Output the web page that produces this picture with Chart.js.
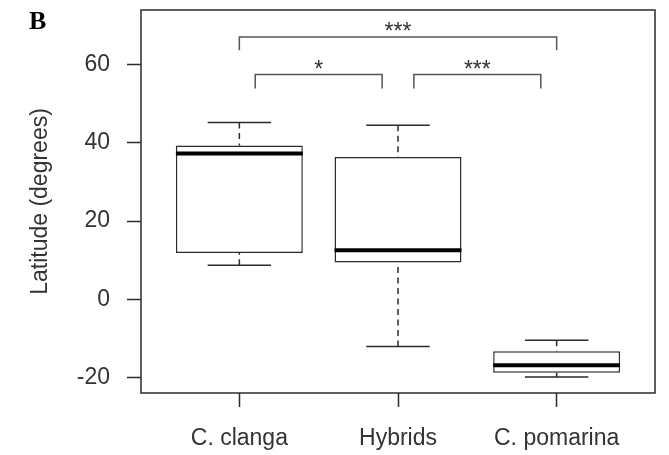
<!DOCTYPE html>
<html lang="en">
<head>
<meta charset="UTF-8">
<title>Latitude por grupo</title>
<script src="https://cdn.jsdelivr.net/npm/chart.js@4.4.0/dist/chart.umd.min.js"></script>
<style>
    html, body { margin: 0; padding: 0; background: #fff; }
    #grafico1 { width: 669px; height: 455px; }
</style>
</head>
<body>

<div id="grafico1">
    <canvas id="myChart"></canvas>
</div>

<script>
    // dados (boxplot de latitude)
    const categorias = ['C. clanga', 'Hybrids', 'C. pomarina'];
    const posicoes = [1, 2, 3];
    const minimos = [8.7, -12.1, -19.9];
    const quartil1 = [11.8, 9.4, -18.8];
    const medianas = [37.3, 12.5, -16.9];
    const quartil3 = [39.3, 36.4, -13.3];
    const maximos = [45.2, 44.5, -10.5];
    const ticksY = [-20, 0, 20, 40, 60];

    // comparações entre grupos (colchetes de significância)
    const compInicio = [1, 1.1, 2.1];
    const compFim = [3, 1.9, 2.9];
    const compTopo = [67.1, 57.5, 57.5];
    const compPerna = [63.7, 53.9, 53.9];
    const compTextoY = [69.8, 60.1, 60.1];
    const compTexto = ['***', '*', '***'];

    const fonte = 'Liberation Sans, Arial, sans-serif';
    const corLinha = '#2b2b2b';

    // plugin que desenha medianas, bigodes, moldura e colchetes usando as escalas do chart
    const desenhoBoxplot = {
        id: 'desenhoBoxplot',
        afterDatasetsDraw(chart) {
            const ctx = chart.ctx;
            const x = chart.scales.x;
            const y = chart.scales.y;
            const area = chart.chartArea;

            ctx.save();
            ctx.strokeStyle = corLinha;
            ctx.lineWidth = 1.5;

            for (let i = 0; i < posicoes.length; i++) {
                const px = x.getPixelForValue(posicoes[i]);

                // bigodes tracejados
                ctx.setLineDash([6, 4.5]);
                ctx.beginPath();
                ctx.moveTo(px, y.getPixelForValue(maximos[i]));
                ctx.lineTo(px, y.getPixelForValue(quartil3[i]));
                ctx.moveTo(px, y.getPixelForValue(minimos[i]));
                ctx.lineTo(px, y.getPixelForValue(quartil1[i]));
                ctx.stroke();
                ctx.setLineDash([]);

                // traços nas pontas
                ctx.beginPath();
                ctx.moveTo(x.getPixelForValue(posicoes[i] - 0.2), y.getPixelForValue(maximos[i]));
                ctx.lineTo(x.getPixelForValue(posicoes[i] + 0.2), y.getPixelForValue(maximos[i]));
                ctx.moveTo(x.getPixelForValue(posicoes[i] - 0.2), y.getPixelForValue(minimos[i]));
                ctx.lineTo(x.getPixelForValue(posicoes[i] + 0.2), y.getPixelForValue(minimos[i]));
                ctx.stroke();

                // mediana grossa
                ctx.save();
                ctx.strokeStyle = '#000';
                ctx.lineWidth = 4;
                ctx.beginPath();
                ctx.moveTo(x.getPixelForValue(posicoes[i] - 0.4), y.getPixelForValue(medianas[i]));
                ctx.lineTo(x.getPixelForValue(posicoes[i] + 0.4), y.getPixelForValue(medianas[i]));
                ctx.stroke();
                ctx.restore();
            }

            // moldura do gráfico
            ctx.strokeRect(area.left, area.top, area.right - area.left, area.bottom - area.top);

            // colchetes
            ctx.strokeStyle = '#555';
            ctx.fillStyle = '#333';
            ctx.font = '23px ' + fonte;
            ctx.textAlign = 'center';
            ctx.textBaseline = 'alphabetic';
            for (let i = 0; i < compTexto.length; i++) {
                const x1 = x.getPixelForValue(compInicio[i]);
                const x2 = x.getPixelForValue(compFim[i]);
                ctx.beginPath();
                ctx.moveTo(x1, y.getPixelForValue(compPerna[i]));
                ctx.lineTo(x1, y.getPixelForValue(compTopo[i]));
                ctx.lineTo(x2, y.getPixelForValue(compTopo[i]));
                ctx.lineTo(x2, y.getPixelForValue(compPerna[i]));
                ctx.stroke();
                ctx.fillText(compTexto[i], (x1 + x2) / 2, y.getPixelForValue(compTextoY[i]) + 13);
            }

            // letra do painel
            ctx.fillStyle = '#000';
            ctx.textAlign = 'left';
            ctx.font = 'bold 26px "Liberation Serif", "Times New Roman", serif';
            ctx.fillText('B', 29, 29);

            ctx.restore();
        }
    };

    const dados = {
        datasets: [{
            label: 'Latitude',
            data: posicoes.map((p, i) => ({ x: p, y: [quartil1[i], quartil3[i]] })),
            backgroundColor: '#fff',
            borderColor: corLinha,
            borderWidth: 1.5,
            borderSkipped: false,
            barPercentage: 1,
            categoryPercentage: 0.8
        }]
    };

    const config = {
        type: 'bar',
        data: dados,
        options: {
            responsive: true,
            maintainAspectRatio: false,
            animation: false,
            layout: { padding: { top: 10, right: 14, left: 0, bottom: 0 } },
            plugins: {
                legend: { display: false },
                tooltip: { enabled: false }
            },
            scales: {
                x: {
                    type: 'linear',
                    min: 0.38,
                    max: 3.62,
                    offset: false,
                    afterFit: (scale) => {
                        scale.height = 62;
                        scale.paddingLeft = 0;
                        scale.paddingRight = 0;
                    },
                    afterBuildTicks: (scale) => { scale.ticks = posicoes.map(v => ({ value: v })); },
                    border: { display: false },
                    grid: { offset: false, drawOnChartArea: false, drawTicks: true, tickLength: 14, tickColor: corLinha, tickWidth: 1.5 },
                    ticks: {
                        autoSkip: false,
                        maxRotation: 0,
                        padding: 18,
                        color: '#333',
                        font: { family: fonte, size: 23 },
                        callback: (v) => categorias[posicoes.indexOf(v)]
                    }
                },
                y: {
                    type: 'linear',
                    min: -24,
                    max: 74,
                    afterFit: (scale) => {
                        scale.width = 141;
                        scale.paddingTop = 0;
                        scale.paddingBottom = 0;
                    },
                    afterBuildTicks: (scale) => { scale.ticks = ticksY.map(v => ({ value: v })); },
                    border: { display: false },
                    grid: { drawOnChartArea: false, drawTicks: true, tickLength: 14, tickColor: corLinha, tickWidth: 1.5 },
                    ticks: {
                        padding: 17,
                        color: '#333',
                        font: { family: fonte, size: 23 }
                    },
                    title: {
                        display: true,
                        text: 'Latitude (degrees)',
                        color: '#333',
                        font: { family: fonte, size: 23 },
                        padding: { top: 27, bottom: 0 }
                    }
                }
            }
        },
        plugins: [desenhoBoxplot]
    };

    let myChart = new Chart(document.getElementById('myChart'), config);
</script>
</body>
</html>
